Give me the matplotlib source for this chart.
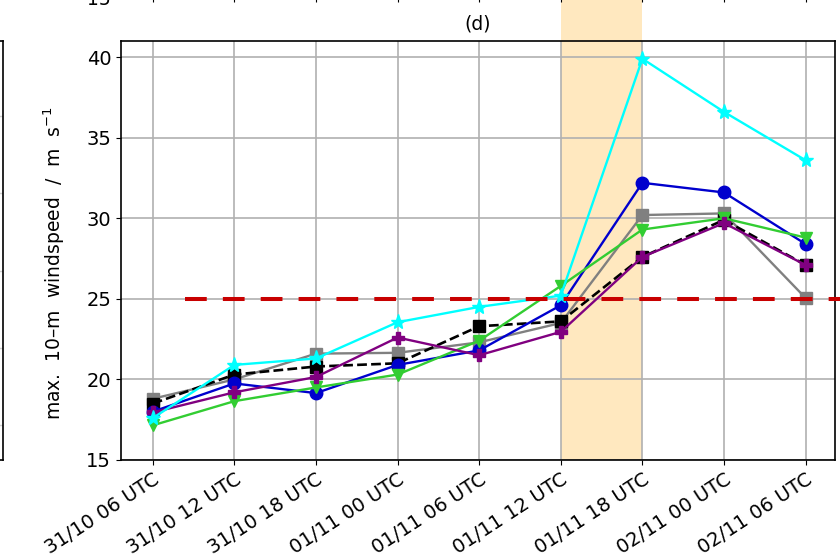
import numpy as np
import matplotlib.pyplot as plt

#====================================================================================================
## data - max. 10-m windspeed per run
times = ['31/10 06 UTC', '31/10 12 UTC', '31/10 18 UTC', '01/11 00 UTC', '01/11 06 UTC',
         '01/11 12 UTC', '01/11 18 UTC', '02/11 00 UTC', '02/11 06 UTC']

ws_gray   = [18.8, 20.0, 21.6, 21.65, 22.3, 23.5, 30.2, 30.3, 25.05]
ws_black  = [18.5, 20.3, 20.8, 21.0, 23.3, 23.6, 27.6, 29.9, 27.1]
ws_blue   = [18.0, 19.75, 19.15, 20.9, 21.8, 24.6, 32.2, 31.6, 28.4]
ws_green  = [17.15, 18.65, 19.5, 20.3, 22.4, 25.8, 29.3, 30.0, 28.8]
ws_purple = [17.95, 19.2, 20.15, 22.6, 21.5, 22.95, 27.6, 29.7, 27.1]
ws_cyan   = [17.6, 20.9, 21.3, 23.55, 24.5, 25.2, 39.9, 36.6, 33.6]

threshold = 25
storm_window = (5, 6)   # index range of the storm passage
#====================================================================================================

x = np.arange(len(times))

fig = plt.figure(figsize=(8.4, 5.6), dpi=100)
ax = fig.add_axes([0.144, 0.1786, 0.850, 0.7482])

# neighbouring panels (only their edges fall inside this crop)
ax_left = fig.add_axes([-0.9, 0.1786, 0.903, 0.7482])
ax_left.set_ylim(12.7, 39.9)
ax_left.set_yticks([15, 20, 25, 30, 35])
ax_left.set_xticks([])
ax_left.grid(True, color='#d0d0d0', lw=1.0)
ax_left.tick_params(labelleft=False, labelbottom=False)

ax_top = fig.add_axes([0.144, 1.0045, 0.850, 0.7482])
ax_top.set_xlim(-0.39, 8.36)
ax_top.set_ylim(15, 41)
ax_top.set_xticks(x)
ax_top.set_yticks([15])
ax_top.tick_params(labelbottom=False, labelsize=13.5)

# ===== main panel (d) =====
ax.axvspan(storm_window[0], storm_window[1], ymin=0, ymax=1.2, color='orange', alpha=0.25,
           lw=0, clip_on=False, zorder=0)

lw = 1.7
ms = 9
ax.plot(x, ws_gray, color='grey', marker='s', lw=lw, ms=ms, zorder=3)
ax.plot(x, ws_black, color='black', marker='s', ls='--', lw=1.9, ms=ms, zorder=3)
ax.plot(x, ws_blue, color='mediumblue', marker='o', lw=lw, ms=ms, zorder=3)
ax.plot(x, ws_green, color='limegreen', marker='v', lw=lw, ms=ms, zorder=3)
ax.plot(x, ws_purple, color='purple', marker='P', lw=lw, ms=ms, zorder=3)
ax.plot(x, ws_cyan, color='cyan', marker='*', lw=lw, ms=ms + 2, zorder=3)

# warning threshold
ax.plot([0.39, 8.5], [threshold, threshold], color='#c80000', lw=2.9,
        ls=(0, (5.4, 4.0)), clip_on=False, zorder=5)

ax.set_xlim(-0.39, 8.36)
ax.set_ylim(15, 41)
ax.set_yticks([15, 20, 25, 30, 35, 40])
ax.set_xticks(x)
ax.set_xticklabels(times, rotation=33, ha='right', rotation_mode='anchor')
ax.tick_params(labelsize=14)
ax.grid(True, color='#b0b0b0', lw=1.2, zorder=0)
ax.set_axisbelow(True)
ax.set_ylabel('max.  10–m  windspeed  /  m  s$^{-1}$', fontsize=13.5)
ax.yaxis.set_label_coords(-0.075, 0.47)
ax.set_title('(d)', fontsize=13.5, pad=8)

for a in (ax, ax_left, ax_top):
    for s in a.spines.values():
        s.set_linewidth(1.2)

fig.savefig('out.png', dpi=100)
